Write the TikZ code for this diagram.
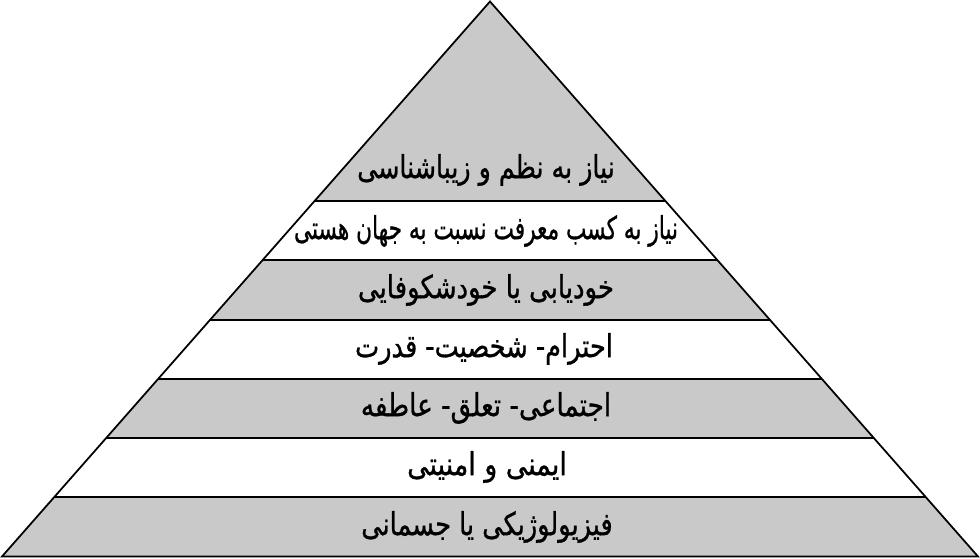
\documentclass[tikz,border=0pt]{standalone}
\usepackage{fontspec}
\usepackage{graphicx}
\usetikzlibrary{calc}
\newfontfamily\arabicfont[Script=Arabic,FakeBold=1]{DejaVu Sans}
\TeXXeTstate=1
\definecolor{bandgray}{gray}{0.79}
\tikzset{>=latex}
\tikzset{level/.style={font=\arabicfont\fontsize{18}{20}\selectfont}}

\begin{document}
\begin{tikzpicture}[x=0.02cm,y=-0.02cm,line width=1pt]
\useasboundingbox (0,0) rectangle (980,558);
\coordinate (A) at (490,1.5);
\coordinate (L) at (2,556.5);
\coordinate (R) at (978,556.5);
% gray bands
\fill[bandgray] (A) -- ($(A)!0.3597!(R)$) -- ($(A)!0.3597!(L)$) -- cycle;
\foreach \ta/\tb in {0.4658/0.5737,0.6799/0.7860,0.8921/1}
  \fill[bandgray] ($(A)!\ta!(L)$) -- ($(A)!\ta!(R)$) -- ($(A)!\tb!(R)$) -- ($(A)!\tb!(L)$) -- cycle;
% outline and level lines
\draw (A) -- (L) -- (R) -- cycle;
\foreach \t in {0.3597,0.4658,0.5737,0.6799,0.7860,0.8921}
  \draw ($(A)!\t!(L)$) -- ($(A)!\t!(R)$);
\node[level] (n7) at (486,170) {\scalebox{0.80}[1]{\beginR نیاز به نظم و زیباشناسی\endR}};
\node[level] (n6) at (486,231) {\scalebox{0.685}[1]{\beginR نیاز به کسب معرفت نسبت به جهان هستی\endR}};
\node[level] (n5) at (486,290) {\scalebox{0.82}[1]{\beginR خودیابی یا خودشکوفایی\endR}};
\node[level] (n4) at (484,349) {\scalebox{0.81}[1]{\beginR احترام- شخصیت- قدرت\endR}};
\node[level] (n3) at (486,408) {\scalebox{0.83}[1]{\beginR اجتماعی- تعلق- عاطفه\endR}};
\node[level] (n2) at (487,467) {\scalebox{0.85}[1]{\beginR ایمنی و امنیتی\endR}};
\node[level] (n1) at (487,527) {\scalebox{0.81}[1]{\beginR فیزیولوژیکی یا جسمانی\endR}};
\end{tikzpicture}
\end{document}
